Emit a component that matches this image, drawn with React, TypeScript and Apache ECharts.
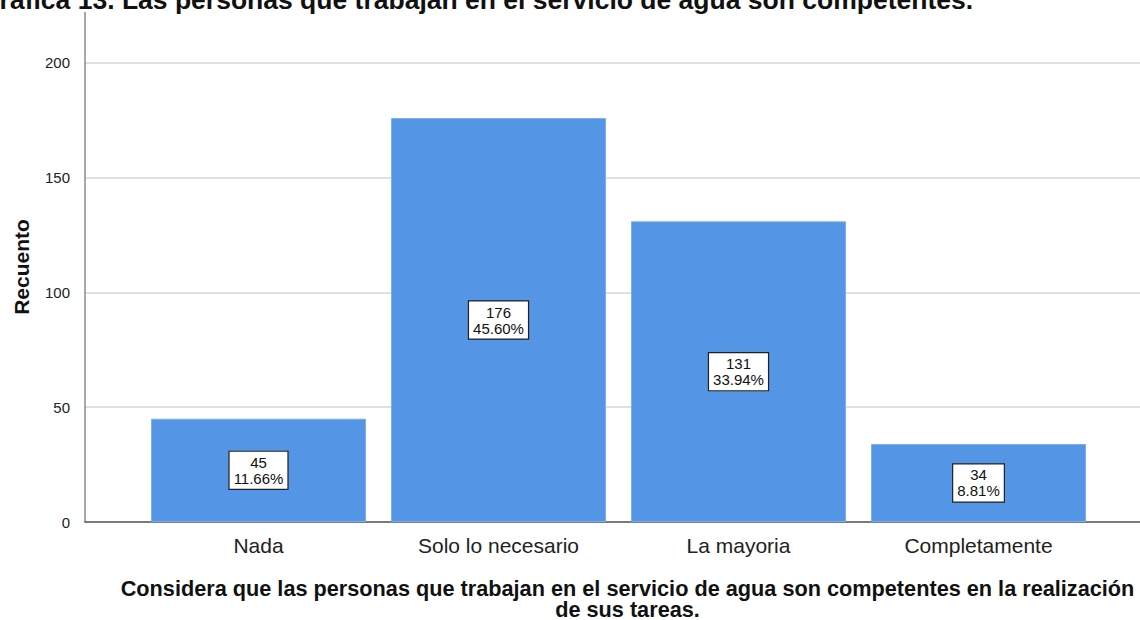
import React, { useEffect, useRef } from "react";
import * as echarts from "echarts";

const categories = ["Nada", "Solo lo necesario", "La mayoria", "Completamente"];
const counts = [45, 176, 131, 34];
const percents = ["11.66%", "45.60%", "33.94%", "8.81%"];
const yTicks = [0, 50, 100, 150, 200];
const yMax = 222;

const titleText = "Gráfica 13. Las personas que trabajan en el servicio de agua son competentes.";
const xTitle = "Considera que las personas que trabajan en el servicio de agua son competentes en la realización\nde sus tareas.";
const yTitle = "Recuento";

const FONT = "'Liberation Sans', Arial, sans-serif";

export default function App() {
  const ref = useRef<HTMLDivElement>(null);
  useEffect(() => {
    if (!ref.current) return;
    const chart = echarts.init(ref.current, null, { renderer: "svg" });
    const gridTop = 12.5;
    const gridBottom = 98;
    chart.setOption({
      animation: false,
      backgroundColor: "#ffffff",
      textStyle: { fontFamily: FONT },
      grid: [
        { left: 85, right: 0, top: gridTop, bottom: gridBottom },
        { left: 138.5, width: 960, top: gridTop, bottom: gridBottom },
      ],
      xAxis: [
        {
          type: "value",
          gridIndex: 0,
          min: 0,
          max: 1,
          axisLine: { show: true, lineStyle: { color: "#5a5a5a", width: 1.5 } },
          axisTick: { show: false },
          axisLabel: { show: false },
          splitLine: { show: false },
        },
        {
          type: "category",
          gridIndex: 1,
          data: categories,
          axisLine: { show: false },
          axisTick: { show: false },
          axisLabel: {
            fontSize: 21,
            color: "#222",
            margin: 13,
            fontFamily: FONT,
          },
        },
      ],
      yAxis: [
        {
          type: "value",
          gridIndex: 0,
          min: 0,
          max: yMax,
          interval: 50,
          axisLine: { show: true, lineStyle: { color: "#8a8a8a", width: 1.5 } },
          axisTick: { show: false },
          axisLabel: {
            fontSize: 15,
            color: "#222",
            margin: 15,
            showMaxLabel: false,
            formatter: (v: number) => (yTicks.includes(v) ? String(v) : ""),
          },
          splitLine: {
            show: true,
            showMaxLine: false,
            lineStyle: { color: "#d6d6d6", width: 1.5 },
          },
        },
        {
          type: "value",
          gridIndex: 1,
          min: 0,
          max: yMax,
          show: false,
        },
      ],
      series: [
        {
          type: "bar",
          xAxisIndex: 1,
          yAxisIndex: 1,
          data: counts,
          barWidth: 215,
          itemStyle: { color: "#5595e5", borderColor: "#7aaeee", borderWidth: 1 },
          label: {
            show: true,
            position: "inside",
            formatter: (p: any) => `${counts[p.dataIndex]}\n${percents[p.dataIndex]}`,
            fontSize: 15,
            lineHeight: 16,
            color: "#111",
            backgroundColor: "#ffffff",
            borderColor: "#222",
            borderWidth: 1.2,
            padding: [3, 4, 2, 4],
            align: "center",
            fontFamily: FONT,
          },
        },
      ],
      graphic: [
        {
          type: "text",
          x: -21,
          y: 0,
          style: {
            text: titleText,
            font: `bold 26.5px ${FONT}`,
            fill: "#111",
            align: "left",
            verticalAlign: "middle",
          },
        },
        {
          type: "text",
          x: 21,
          y: 267,
          rotation: Math.PI / 2,
          style: {
            text: yTitle,
            font: `bold 21px ${FONT}`,
            fill: "#111",
            align: "center",
            verticalAlign: "middle",
          },
        },
        {
          type: "text",
          x: 627.5,
          y: 598.5,
          style: {
            text: xTitle,
            font: `bold 21.7px ${FONT}`,
            fill: "#111",
            align: "center",
            verticalAlign: "middle",
            lineHeight: 21,
          },
        },
      ],
    });
    return () => chart.dispose();
  }, []);
  return (
    <div
      ref={ref}
      style={{ position: "fixed", left: 0, top: 0, width: 1140, height: 620 }}
    />
  );
}
